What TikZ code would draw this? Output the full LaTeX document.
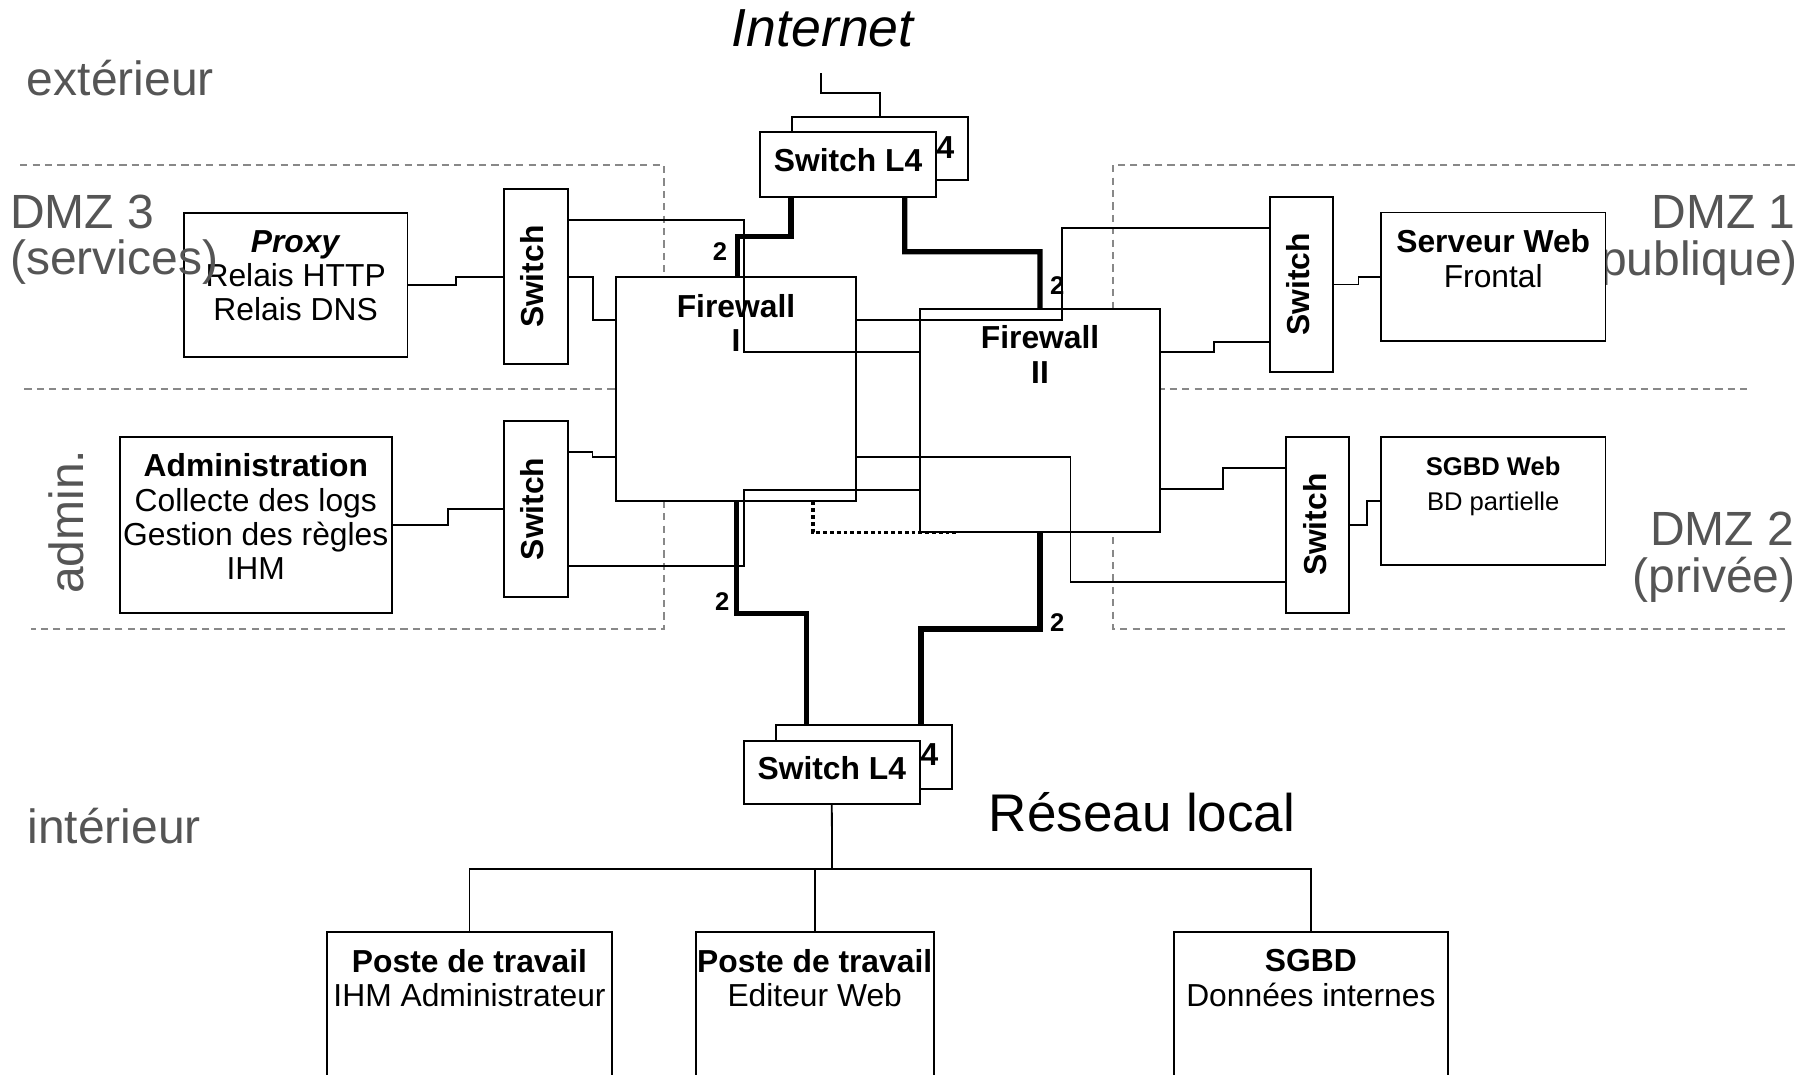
\documentclass[tikz,border=0pt]{standalone}
\usepackage{fontspec}
\setmainfont{Liberation Sans}
\usetikzlibrary{fit,calc}

\definecolor{zonegray}{RGB}{85,85,85}
\definecolor{dashgray}{RGB}{136,136,136}

\newcommand\boxfont{\fontsize{15.9}{17.1}\selectfont}
\newcommand\smallboxfont{\fontsize{12.8}{17.6}\selectfont}
\newcommand\zonefont{\fontsize{24}{28}\selectfont}

\tikzset{
  box/.style={draw=black, fill=white, line width=0.9pt, inner sep=0pt, rectangle},
  boxtext/.style={anchor=north, inner sep=0pt, align=center, font=\boxfont},
  swtext/.style={rotate=90, inner sep=0pt, font=\boxfont\bfseries},
  l4text/.style={inner sep=0pt, font=\boxfont\bfseries},
  zonelabel/.style={inner sep=0pt, text=zonegray, font=\zonefont},
  zone/.style={draw=dashgray, line width=0.9pt, dash pattern=on 3.6pt off 2.6pt},
  wire/.style={draw=black, line width=0.9pt},
  trunk/.style={draw=black, line width=2.6pt},
  dotline/.style={draw=black, line width=1.8pt, dash pattern=on 1.9pt off 1.5pt},
  num/.style={inner sep=0pt, font=\fontsize{12.8}{14}\selectfont\bfseries},
}

\begin{document}
\begin{tikzpicture}[x=0.5778pt, y=-0.5778pt]
  \useasboundingbox (0,0) rectangle (1568,930);
  \fill[white] (0,0) rectangle (1568,930);
  \clip (0,0) rectangle (1568,930);

  % zone borders
  \draw[zone] (17.4,142.8) -| (574.5,544.3) -- (27,544.3);
  \draw[zone] (21.2,336.6) -- (560,336.6);
  \draw[zone] (1553,142.8) -| (963,544.3) -- (1545,544.3);
  \draw[zone] (980,336.6) -- (1516,336.6);

  % zone names partly covered by the boxes
  \node[zonelabel, anchor=base east] (dmz1a) at (1554,198) {DMZ 1};
  \node[zonelabel, anchor=base east] (dmz1b) at (1556,238) {(publique)};

  % firewalls
  \node[box, fit={(533,239.7) (740.8,433.3)}] (fw1) {};
  \node[box, fit={(796.2,267.1) (1003.8,460.7)}] (fw2) {};
  \node[boxtext, font=\boxfont\bfseries] (fw1t) at ($(fw1.north)+(0,15.3)$) {Firewall\\I};
  \node[boxtext, font=\boxfont\bfseries] (fw2t) at ($(fw2.north)+(0,15.3)$) {Firewall\\II};

  % layer 4 switches (stacked pairs)
  \node[box, fit={(685.4,101.2) (837.8,156)}] (l4topb) {};
  \node[l4text] (l4topbt) at ($(l4topb.center)+(0,-1.5)$) {Switch L4};
  \node[box, fit={(657.7,114.2) (810,170.5)}] (l4top) {};
  \node[l4text] (l4topt) at ($(l4top.center)+(0,-3.5)$) {Switch L4};

  \node[box, fit={(671.5,627.4) (824,682.5)}] (l4botb) {};
  \node[l4text] (l4botbt) at ($(l4botb.center)+(0,-2.4)$) {Switch L4};
  \node[box, fit={(643.6,641.3) (796,696)}] (l4bot) {};
  \node[l4text] (l4bott) at ($(l4bot.center)+(0,-4)$) {Switch L4};

  % zone switches
  \node[box, fit={(435.8,163.6) (491.4,315.3)}] (sw3) {};
  \node[swtext] (sw3t) at ($(sw3.center)+(-3,0)$) {Switch};
  \node[box, fit={(435.8,364.3) (491.4,516.3)}] (swA) {};
  \node[swtext] (swAt) at ($(swA.center)+(-3,0)$) {Switch};
  \node[box, fit={(1098.7,170.2) (1153.4,322.2)}] (sw1) {};
  \node[swtext] (sw1t) at ($(sw1.center)+(-2.5,0)$) {Switch};
  \node[box, fit={(1112.6,377.9) (1167.2,530.2)}] (sw2) {};
  \node[swtext] (sw2t) at ($(sw2.center)+(-1.5,0)$) {Switch};

  % servers
  \node[box, fit={(159,184) (352.7,308.6)}] (proxy) {};
  \node[boxtext] (proxyt) at ($(proxy.north)+(0,16)$)
    {\textbf{\textit{Proxy}}\\Relais HTTP\\Relais DNS};
  \node[box, fit={(103.5,377.9) (339.2,530.2)}] (admin) {};
  \node[boxtext] (admint) at ($(admin.north)+(0,15.3)$)
    {\textbf{Administration}\\Collecte des logs\\Gestion des règles\\IHM};
  \node[box, fit={(1195,183.8) (1389.3,295.1)}] (web) {};
  \node[boxtext] (webt) at ($(web.north)+(0,15.6)$) {\textbf{Serveur Web}\\Frontal};
  \node[box, fit={(1195,377.9) (1389.3,489)}] (sgbdweb) {};
  \node[boxtext, font=\smallboxfont] (sgbdwebt) at ($(sgbdweb.north)+(0,18)$)
    {\textbf{SGBD Web}\\BD partielle};

  % local network hosts
  \node[box, fit={(283,806.6) (529.6,960)}] (poste1) {};
  \node[boxtext] (poste1t) at ($(poste1.north)+(0,15.6)$)
    {\textbf{Poste de travail}\\IHM Administrateur};
  \node[box, fit={(602,806.6) (808,960)}] (poste2) {};
  \node[boxtext] (poste2t) at ($(poste2.north)+(0,15.6)$)
    {\textbf{Poste de travail}\\Editeur Web};
  \node[box, fit={(1016,806.6) (1252.7,960)}] (sgbd) {};
  \node[boxtext] (sgbdt) at ($(sgbd.north)+(0,15.6)$)
    {\textbf{SGBD}\\Données internes};

  % zone names drawn over the boxes
  \node[zonelabel, anchor=base west] (ext) at (23,83) {extérieur};
  \node[zonelabel, anchor=base west] (dmz3a) at (8.5,198) {DMZ 3};
  \node[zonelabel, anchor=base west] (dmz3b) at (8.5,237.5) {(services)};
  \node[zonelabel, anchor=base east] (dmz2a) at (1553,472) {DMZ 2};
  \node[zonelabel, anchor=base east] (dmz2b) at (1554,512.5) {(privée)};
  \node[zonelabel, rotate=90] (adm) at (57,451.5) {admin.};
  \node[zonelabel, anchor=base west] (int) at (23.5,730) {intérieur};

  \node[inner sep=0pt, anchor=base, font=\fontsize{26.8}{30}\selectfont\itshape] (inet) at (712,40.5) {Internet};
  \node[inner sep=0pt, anchor=base, font=\fontsize{26.5}{30}\selectfont] (lan) at (988.3,719.7) {Réseau local};

  % Internet uplink
  \coordinate (inetport) at (710.5,63.5);
  \draw[wire] (inetport) -- ++(0,17.3) -| (l4topb.north);

  % thin links
  \draw[wire] (proxy.east) -- ++(41.3,0) |- (sw3.west);
  \draw[wire] (sw3.east |- 0,190.4) -| (644,304.6) -- (fw2.west |- 0,304.6);
  \draw[wire] (sw3.east) -| (513,277) -- (fw1.west |- 0,277);
  \draw[wire] (admin.east) -- ++(47.8,0) |- (swA.west);
  \draw[wire] (swA.east |- 0,391) -| (512.7,395.6) -- (fw1.west |- 0,395.6);
  \draw[wire] (swA.east |- 0,489.5) -| (644,424) -- (fw2.west |- 0,424);
  \draw[wire] (sw1.east) -- ++(21.4,0) |- (web.west);
  \draw[wire] (fw1.east |- 0,277) -| (919,197.4) -- (sw1.west |- 0,197.4);
  \draw[wire] (fw2.east |- 0,304.3) -| (1050.7,295.7) -- (sw1.west |- 0,295.7);
  \draw[wire] (sw2.east) -- ++(14.8,0) |- (sgbdweb.west);
  \draw[wire] (fw2.east |- 0,423) -| (1058,404.7) -- (sw2.west |- 0,404.7);
  \draw[wire] (fw1.east |- 0,395.5) -| (926.3,503.4) -- (sw2.west |- 0,503.4);

  % doubled trunk links
  \draw[trunk] (l4top.south -| 684.5,0) |- (638,204.5) -- (fw1.north -| 638,0);
  \draw[trunk] (l4top.south -| 782.9,0) |- (900,217.8) -- (fw2.north);
  \draw[trunk] (fw1.south -| 637,0) |- (698,530.7) -- (l4botb.north -| 698,0);
  \draw[trunk] (fw2.south) |- (797,544.3) -- (l4botb.north -| 797,0);
  \node[num] (n1) at (623,217.8) {2};
  \node[num] (n2) at (914.8,247) {2};
  \node[num] (n3) at (625,520.7) {2};
  \node[num] (n4) at (914.8,538.8) {2};

  % firewall sync link
  \coordinate (syncend) at (829.3,460.7);
  \draw[dotline] (fw1.south -| 703.7,0) |- (syncend);

  % local network bus
  \coordinate (lanbus) at (720,752);
  \draw[wire] (l4bot.south) -- (lanbus);
  \draw[wire] (poste1.north) |- (lanbus) -| (sgbd.north);
  \draw[wire] (poste2.north) -- (poste2.north |- lanbus);
\end{tikzpicture}
\end{document}
